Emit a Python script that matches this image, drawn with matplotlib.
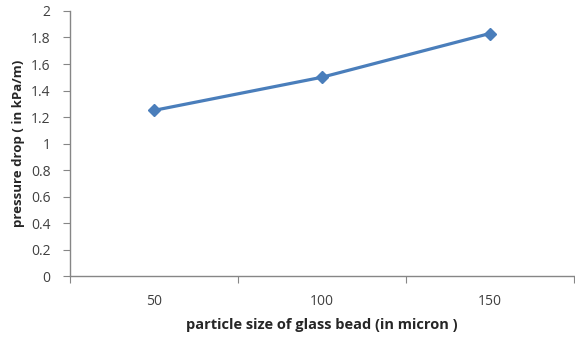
import matplotlib
matplotlib.use("Agg")
import matplotlib.pyplot as plt
import numpy as np

particle_size = ["50", "100", "150"]
pressure_drop = [1.25, 1.50, 1.83]
y_ticks = [0, 0.2, 0.4, 0.6, 0.8, 1, 1.2, 1.4, 1.6, 1.8, 2]

plt.rcParams['font.family'] = ['Open Sans', 'DejaVu Sans']

fig = plt.figure(figsize=(5.75, 3.43), dpi=100)
ax = fig.add_axes([0.1217, 0.195, 0.876, 0.773])

x = np.arange(len(particle_size))
ax.plot(x, pressure_drop, color="#4A7EBB", linewidth=2.3, marker="D",
        markersize=6.5, markerfacecolor="#4A7EBB", markeredgecolor="#4A7EBB")

ax.set_xlim(-0.5, len(particle_size) - 0.5)
ax.set_ylim(0, 2)

# category boundaries carry the tick marks, labels sit at the centres
ax.set_xticks(np.arange(-0.5, len(particle_size), 1.0))
ax.set_xticklabels([])
ax.set_xticks(x, minor=True)
ax.set_xticklabels(particle_size, minor=True)
ax.tick_params(axis="x", which="minor", length=0, pad=13, labelsize=10, labelcolor="#404040")
ax.tick_params(axis="x", which="major", length=5, color="#868686", direction="out")

ax.set_yticks(y_ticks)
ax.set_yticklabels([f"{v:g}" for v in y_ticks])
ax.tick_params(axis="y", length=5, color="#868686", direction="out", labelsize=10,
               labelcolor="#404040", pad=9)

for side in ("top", "right"):
    ax.spines[side].set_visible(False)
for side in ("left", "bottom"):
    ax.spines[side].set_color("#868686")
    ax.spines[side].set_linewidth(1.0)

ax.set_xlabel("particle size of glass bead (in micron )", fontsize=10.5, fontweight="bold",
              color="#262626", labelpad=6)
ax.set_ylabel("pressure drop ( in kPa/m)", fontsize=9.5, fontweight="bold",
              color="#262626", labelpad=4)

fig.savefig("out.png", dpi=100, facecolor="white")
